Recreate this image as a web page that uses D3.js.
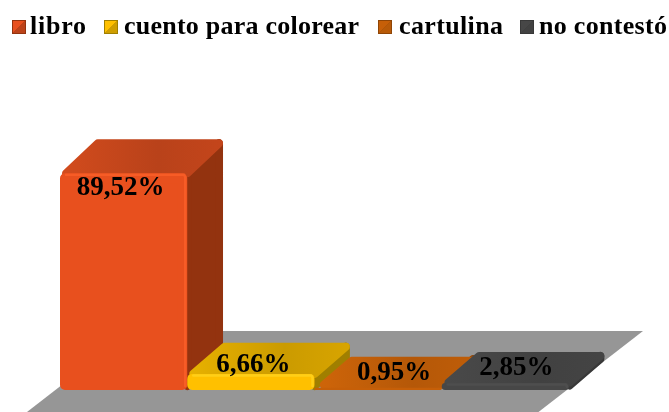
<!DOCTYPE html>
<html><head><meta charset="utf-8">
<script src="https://cdn.jsdelivr.net/npm/d3@7/dist/d3.min.js"></script>
<style>html,body{margin:0;padding:0;background:#fff}svg{display:block;filter:blur(.5px)}
text{font-family:"Liberation Serif","Times New Roman",serif;font-weight:bold;fill:#000}</style>
</head><body><svg id="c" width="669" height="412"></svg>
<script>
const categories = ["libro", "cuento para colorear", "cartulina", "no contestó"];
const values = [89.52, 6.66, 0.95, 2.85];
const valueLabels = ["89,52%", "6,66%", "0,95%", "2,85%"];
const frontColors = ["#E8501E", "#FFC000", "#C65F08", "#474747"];
const topColors = ["#BC431A", "#CF9E00", "#B85A08", "#424242"];
const sideColors = ["#93330F", "#A07F00", "#8F4506", "#383838"];
const glowColors = ["#FA5F28", "#FFD21E", "#DC6E0E", "#505050"];
const labelShift = [[-3, 21.5], [2.5, -2], [16, -8], [11, -8]];
const legendSwatchX = [12, 104, 378, 520];
const legendTextX = [30, 124, 399, 539];
const legendTextW = [56, 235, 104, 128];

const svg = d3.select("#c");
const x = d3.scaleBand().domain(categories).range([60, 569]);
const y = d3.scaleLinear().domain([0, 100]).range([390, 148]);
const depthX = 36, floorY = y(0);
const depthY = v => 31 + (y(0) - y(v)) * 0.014;
const line = d3.line();
const fp = 1.29;
svg.append("path").attr("fill", "#969696")
  .attr("d", line([[27 + 81 * fp, 331], [643, 331], [643 - 120 * fp, 451], [27 - 39 * fp, 451]]) + "Z");

const defs = svg.append("defs");
categories.forEach((c, i) => {
  const g = defs.append("linearGradient").attr("id", "t" + i);
  const col = d3.color(topColors[i]);
  g.append("stop").attr("offset", 0).attr("stop-color", col.brighter(.3));
  g.append("stop").attr("offset", .6).attr("stop-color", col.darker(.05));
  g.append("stop").attr("offset", 1).attr("stop-color", col.brighter(.1));
});
function face(g, pts, fill, rad) {
  g.append("path").attr("d", line(pts) + "Z").attr("fill", fill).attr("stroke", fill)
    .attr("stroke-width", 2 * rad).attr("stroke-linejoin", "round");
}
const rt = 4, tipShift = 6;
categories.forEach((c, i) => {
  const g = svg.append("g");
  const xa = x(c), xb = x(c) + x.bandwidth(), v = values[i];
  const yt = y(v), dy = depthY(v), yb = floorY;
  const h = yb - yt;
  const rf = Math.min(5, h / 2);
  const k = depthX / dy;
  const yB = yt - dy;
  const yk = yB + rt, yfi = yt - rt + Math.min(rf, rt);
  const xL = yy => xa + (yt - yy) * k + 1.5 * rt;
  const xR = yy => xb + (yt - yy) * k - 1.5 * rt + tipShift;
  face(g, [[xR(yk), yk], [xR(yk), yk + h - rt], [xR(yfi), yfi + h - rt], [xR(yfi), yfi]], sideColors[i], rt);
  face(g, [[xL(yfi), yfi], [xL(yk), yk], [xR(yk), yk], [xR(yfi), yfi]], `url(#t${i})`, rt);
  face(g, [[xa + rf, yt + rf], [xb - rf, yt + rf], [xb - rf, yb - rf], [xa + rf, yb - rf]], frontColors[i], rf);
  if (h > 5) {
    g.append("path").attr("fill", "none").attr("stroke", glowColors[i]).attr("stroke-width", 2.5)
      .attr("stroke-linecap", "round").attr("stroke-linejoin", "round").attr("opacity", .8)
      .attr("d", line([[xa + 6, yt + 1.5], [xb - 3, yt + 1.5], [xb - 2, yt + 4], [xb - 2, yb - 4]]));
  }
});
svg.selectAll("text.v").data(categories).join("text").attr("class", "v")
  .attr("text-anchor", "middle").attr("font-size", 27)
  .attr("x", (c, i) => x(c) + x.bandwidth() / 2 + labelShift[i][0])
  .attr("y", (c, i) => y(values[i]) + labelShift[i][1])
  .text((c, i) => valueLabels[i]);
categories.forEach((c, i) => {
  const g = svg.append("g").attr("transform", `translate(${legendSwatchX[i]},20)`);
  const s = 14;
  g.append("rect").attr("width", s).attr("height", s).attr("fill", sideColors[i]);
  g.append("path").attr("d", line([[0, 0], [s, 0], [0, s]]) + "Z").attr("fill", frontColors[i]);
  g.append("path").attr("d", line([[s, 0], [s, s], [0, s]]) + "Z").attr("fill", topColors[i]);
  g.append("rect").attr("x", .5).attr("y", .5).attr("width", s - 1).attr("height", s - 1)
    .attr("fill", "none").attr("stroke", sideColors[i]);
});
svg.selectAll("text.l").data(categories).join("text").attr("class", "l")
  .attr("font-size", 26).attr("y", 34)
  .attr("x", (c, i) => legendTextX[i])
  .attr("textLength", (c, i) => legendTextW[i]).attr("lengthAdjust", "spacing")
  .text(c => c);
</script></body></html>
